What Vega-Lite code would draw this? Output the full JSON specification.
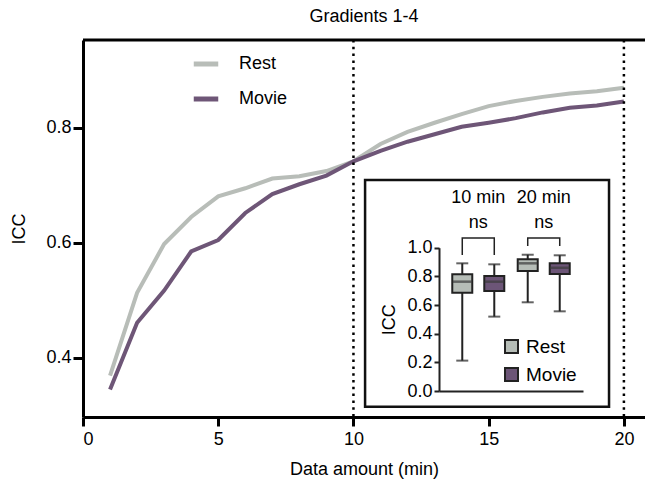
{
  "$schema": "https://vega.github.io/schema/vega-lite/v6.json",
  "width": 562,
  "height": 377,
  "autosize": {"type": "none"},
  "padding": {"left": 83, "top": 40, "right": 0, "bottom": 70},
  "background": "white",
  "config": {
    "view": {"stroke": null},
    "font": "Liberation Sans",
    "axis": {"labelFont": "Liberation Sans", "titleFont": "Liberation Sans", "labelColor": "#000", "titleColor": "#000", "titleFontWeight": "normal", "grid": false}
  },
  "title": {"text": "Gradients 1-4", "fontSize": 18, "fontWeight": "normal", "font": "Liberation Sans", "offset": 13, "color": "#000"},
  "datasets": {
    "curves": [
      {"minutes": 1, "series": "Rest", "icc": 0.369}, {"minutes": 2, "series": "Rest", "icc": 0.513},
      {"minutes": 3, "series": "Rest", "icc": 0.598}, {"minutes": 4, "series": "Rest", "icc": 0.645},
      {"minutes": 5, "series": "Rest", "icc": 0.681}, {"minutes": 6, "series": "Rest", "icc": 0.695},
      {"minutes": 7, "series": "Rest", "icc": 0.712}, {"minutes": 8, "series": "Rest", "icc": 0.716},
      {"minutes": 9, "series": "Rest", "icc": 0.725}, {"minutes": 10, "series": "Rest", "icc": 0.742},
      {"minutes": 11, "series": "Rest", "icc": 0.772}, {"minutes": 12, "series": "Rest", "icc": 0.793},
      {"minutes": 13, "series": "Rest", "icc": 0.809}, {"minutes": 14, "series": "Rest", "icc": 0.824},
      {"minutes": 15, "series": "Rest", "icc": 0.838}, {"minutes": 16, "series": "Rest", "icc": 0.847},
      {"minutes": 17, "series": "Rest", "icc": 0.854}, {"minutes": 18, "series": "Rest", "icc": 0.86},
      {"minutes": 19, "series": "Rest", "icc": 0.864}, {"minutes": 20, "series": "Rest", "icc": 0.87},
      {"minutes": 1, "series": "Movie", "icc": 0.345}, {"minutes": 2, "series": "Movie", "icc": 0.461},
      {"minutes": 3, "series": "Movie", "icc": 0.517}, {"minutes": 4, "series": "Movie", "icc": 0.585},
      {"minutes": 5, "series": "Movie", "icc": 0.605}, {"minutes": 6, "series": "Movie", "icc": 0.652},
      {"minutes": 7, "series": "Movie", "icc": 0.685}, {"minutes": 8, "series": "Movie", "icc": 0.702},
      {"minutes": 9, "series": "Movie", "icc": 0.717}, {"minutes": 10, "series": "Movie", "icc": 0.742},
      {"minutes": 11, "series": "Movie", "icc": 0.76}, {"minutes": 12, "series": "Movie", "icc": 0.776},
      {"minutes": 13, "series": "Movie", "icc": 0.789}, {"minutes": 14, "series": "Movie", "icc": 0.802},
      {"minutes": 15, "series": "Movie", "icc": 0.809}, {"minutes": 16, "series": "Movie", "icc": 0.817},
      {"minutes": 17, "series": "Movie", "icc": 0.827}, {"minutes": 18, "series": "Movie", "icc": 0.835},
      {"minutes": 19, "series": "Movie", "icc": 0.839}, {"minutes": 20, "series": "Movie", "icc": 0.846}
    ],
    "markers": [{"minutes": 10}, {"minutes": 20}],
    "boxes": [
      {"group": "10 min", "cond": "Rest", "min": 0.212, "q1": 0.686, "median": 0.763, "q3": 0.814, "max": 0.891},
      {"group": "10 min", "cond": "Movie", "min": 0.519, "q1": 0.698, "median": 0.763, "q3": 0.802, "max": 0.884},
      {"group": "20 min", "cond": "Rest", "min": 0.619, "q1": 0.837, "median": 0.891, "q3": 0.919, "max": 0.951},
      {"group": "20 min", "cond": "Movie", "min": 0.556, "q1": 0.816, "median": 0.86, "q3": 0.891, "max": 0.947}
    ],
    "brackets": [
      {"group": "10 min", "cond": "Rest", "y": 0.949, "step": 1},
      {"group": "10 min", "cond": "Rest", "y": 1.068, "step": 2},
      {"group": "10 min", "cond": "Movie", "y": 1.068, "step": 3},
      {"group": "10 min", "cond": "Movie", "y": 0.949, "step": 4},
      {"group": "20 min", "cond": "Rest", "y": 1.012, "step": 1},
      {"group": "20 min", "cond": "Rest", "y": 1.068, "step": 2},
      {"group": "20 min", "cond": "Movie", "y": 1.068, "step": 3},
      {"group": "20 min", "cond": "Movie", "y": 1.012, "step": 4}
    ],
    "tests": [{"group": "10 min", "sig": "ns"}, {"group": "20 min", "sig": "ns"}],
    "single": [{}]
  },
  "layer": [
    {
      "layer": [
        {
          "data": {"name": "curves"},
          "mark": {"type": "line", "strokeWidth": 4},
          "encoding": {
            "x": {"field": "minutes", "type": "quantitative",
              "scale": {"domain": [0, 20.78], "nice": false},
              "axis": {"values": [0, 5, 10, 15, 20], "title": "Data amount (min)", "labelFontSize": 18, "titleFontSize": 18, "tickSize": 9, "tickWidth": 3, "domainWidth": 3, "domainColor": "#000", "tickColor": "#000", "labelPadding": 4, "titlePadding": 12}},
            "y": {"field": "icc", "type": "quantitative",
              "scale": {"domain": [0.297, 0.953], "nice": false, "zero": false},
              "axis": {"values": [0.4, 0.6, 0.8], "format": ".1f", "title": "ICC", "labelFontSize": 18, "titleFontSize": 18, "tickSize": 10, "tickWidth": 3, "domainWidth": 3, "domainColor": "#000", "tickColor": "#000", "labelPadding": 2, "titlePadding": 17}},
            "color": {"field": "series", "type": "nominal",
              "scale": {"domain": ["Rest", "Movie"], "range": ["#b8bdb8", "#6e5677"]},
              "legend": {"orient": "none", "legendX": 108, "legendY": 9, "title": null, "symbolType": "stroke", "symbolSize": 600, "symbolStrokeWidth": 5, "labelFontSize": 18, "labelFont": "Liberation Sans", "labelColor": "#000", "labelOffset": 18, "rowPadding": 10, "padding": 0}}
          }
        },
        {
          "data": {"name": "markers"},
          "mark": {"type": "rule", "color": "#000", "strokeWidth": 2.5, "strokeDash": [2.5, 4.3]},
          "encoding": {"x": {"field": "minutes", "type": "quantitative"}}
        },
        {
          "data": {"name": "single"},
          "mark": {"type": "rule", "color": "#000", "strokeWidth": 3},
          "encoding": {"y": {"datum": 0.953}}
        },
        {
          "data": {"name": "single"},
          "mark": {"type": "rect", "fill": "white", "stroke": "#111", "strokeWidth": 2.5},
          "encoding": {
            "x": {"datum": 10.43}, "x2": {"datum": 19.45},
            "y": {"datum": 0.7096}, "y2": {"datum": 0.3148}
          }
        }
      ]
    },
    {
      "layer": [
        {
          "data": {"name": "boxes"},
          "mark": {"type": "rule", "color": "#222", "strokeWidth": 2},
          "encoding": {
            "x": {"field": "group", "type": "nominal",
              "scale": {"type": "band", "domain": ["10 min", "20 min"], "range": [356, 500], "paddingInner": 0, "paddingOuter": 0.1},
              "axis": {"orient": "bottom", "offset": -26, "labels": false, "ticks": false, "title": null, "domainColor": "#222", "domainWidth": 2, "zindex": 2}},
            "xOffset": {"field": "cond", "type": "nominal", "scale": {"domain": ["Rest", "Movie"], "paddingInner": 0.375, "paddingOuter": 0.21}},
            "y": {"field": "min", "type": "quantitative",
              "scale": {"domain": [0, 1], "range": [351, 207.7], "nice": false, "zero": false},
              "axis": {"orient": "left", "offset": -356, "values": [0, 0.2, 0.4, 0.6, 0.8, 1], "format": ".1f", "title": "ICC", "labelFontSize": 18, "titleFontSize": 18, "tickSize": 5, "tickWidth": 2, "domainWidth": 2, "domainColor": "#222", "tickColor": "#222", "labelPadding": 2, "titlePadding": 8, "zindex": 2}},
            "y2": {"field": "max"}
          }
        },
        {
          "data": {"name": "boxes"},
          "mark": {"type": "tick", "color": "#222", "size": 12, "thickness": 2, "orient": "horizontal"},
          "encoding": {
            "x": {"field": "group", "type": "nominal"},
            "xOffset": {"field": "cond", "type": "nominal"},
            "y": {"field": "min", "type": "quantitative"}
          }
        },
        {
          "data": {"name": "boxes"},
          "mark": {"type": "tick", "color": "#222", "size": 12, "thickness": 2, "orient": "horizontal"},
          "encoding": {
            "x": {"field": "group", "type": "nominal"},
            "xOffset": {"field": "cond", "type": "nominal"},
            "y": {"field": "max", "type": "quantitative"}
          }
        },
        {
          "data": {"name": "boxes"},
          "mark": {"type": "bar", "stroke": "#222", "strokeWidth": 2},
          "encoding": {
            "x": {"field": "group", "type": "nominal"},
            "xOffset": {"field": "cond", "type": "nominal"},
            "y": {"field": "q1", "type": "quantitative"},
            "y2": {"field": "q3"},
            "color": {"field": "cond", "type": "nominal",
              "scale": {"domain": ["Rest", "Movie"], "range": ["#b6bdb7", "#6c5577"]},
              "legend": {"orient": "none", "legendX": 419, "legendY": 297, "title": null, "symbolType": "square", "symbolSize": 169, "symbolStrokeColor": "#222", "symbolStrokeWidth": 2, "labelFontSize": 19, "labelFont": "Liberation Sans", "labelColor": "#000", "labelOffset": 5, "rowPadding": 7, "padding": 0, "zindex": 2}}
          }
        },
        {
          "data": {"name": "boxes"},
          "mark": {"type": "tick", "color": "#3a3a3a", "size": 19, "thickness": 2.5, "orient": "horizontal"},
          "encoding": {
            "x": {"field": "group", "type": "nominal"},
            "xOffset": {"field": "cond", "type": "nominal"},
            "y": {"field": "median", "type": "quantitative"}
          }
        },
        {
          "data": {"name": "brackets"},
          "mark": {"type": "line", "color": "#222", "strokeWidth": 1.5},
          "encoding": {
            "x": {"field": "group", "type": "nominal"},
            "xOffset": {"field": "cond", "type": "nominal"},
            "y": {"field": "y", "type": "quantitative"},
            "detail": {"field": "group"},
            "order": {"field": "step", "type": "quantitative"}
          }
        },
        {
          "data": {"name": "tests"},
          "mark": {"type": "text", "fontSize": 18, "font": "Liberation Sans", "color": "#000", "baseline": "middle", "align": "center"},
          "encoding": {
            "x": {"field": "group", "type": "nominal"},
            "y": {"datum": 1.347},
            "text": {"field": "group"}
          }
        },
        {
          "data": {"name": "tests"},
          "mark": {"type": "text", "fontSize": 18, "font": "Liberation Sans", "color": "#000", "baseline": "middle", "align": "center"},
          "encoding": {
            "x": {"field": "group", "type": "nominal"},
            "y": {"datum": 1.17},
            "text": {"field": "sig"}
          }
        }
      ]
    }
  ],
  "resolve": {"scale": {"x": "independent", "y": "independent", "color": "independent"}}
}
